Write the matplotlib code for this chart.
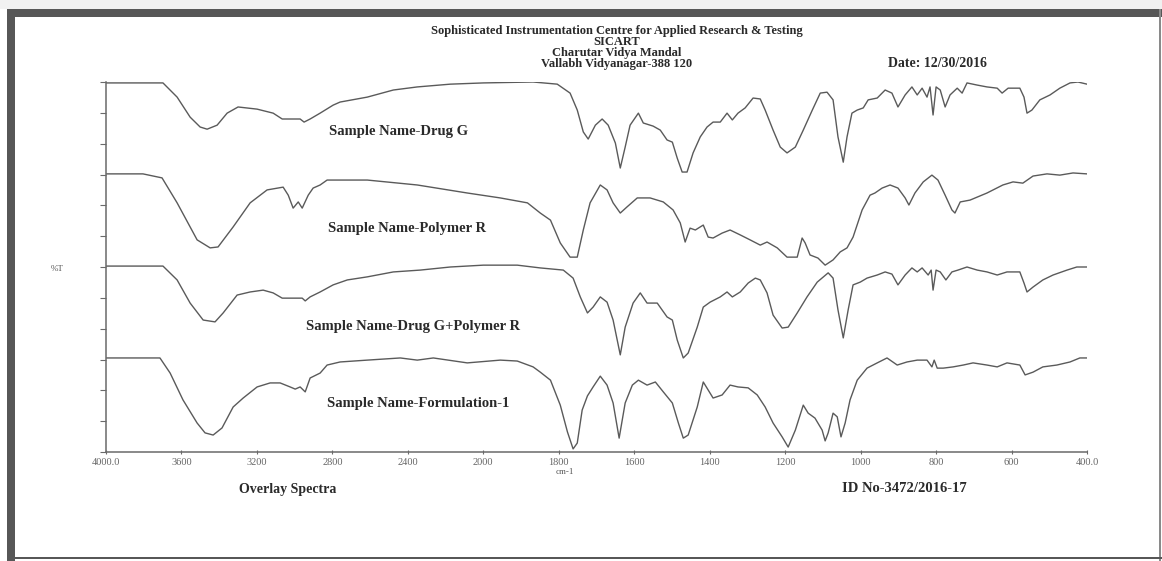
import numpy as np
import matplotlib.pyplot as plt
from matplotlib.patches import Rectangle

plt.rcParams['font.family'] = ['Liberation Serif', 'DejaVu Serif']

# (wavenumber cm-1, stacked %T)
drug_g = [(4000, 119.7), (3698, 119.7), (3623, 115.1), (3554, 108.6), (3501, 105.4),
          (3464, 104.7), (3411, 106.0), (3358, 109.9), (3300, 111.9), (3199, 111.2),
          (3114, 109.9), (3066, 108.0), (3008, 108.0), (2971, 108.0), (2950, 107.0),
          (2918, 108.0), (2865, 109.9), (2796, 112.5), (2759, 113.5), (2615, 115.1),
          (2477, 117.4), (2350, 118.4), (2175, 119.3), (2000, 119.7), (1868, 120.0),
          (1804, 119.3), (1770, 116.4), (1751, 110.9), (1735, 103.8), (1722, 101.5),
          (1703, 106.0), (1685, 108.0), (1669, 106.0), (1650, 100.2), (1637, 92.1),
          (1624, 98.9), (1611, 106.0), (1589, 109.9), (1576, 106.7), (1550, 105.7),
          (1531, 104.4), (1513, 101.2), (1499, 100.5), (1486, 95.3), (1473, 90.8),
          (1460, 90.8), (1444, 97.0), (1425, 102.2), (1407, 105.4), (1391, 107.0),
          (1372, 107.0), (1354, 109.9), (1340, 107.7), (1325, 109.9), (1306, 111.6),
          (1285, 114.8), (1266, 114.5), (1253, 110.9), (1232, 104.4), (1213, 98.9),
          (1195, 97.0), (1173, 98.9), (1152, 104.4), (1128, 110.9), (1107, 116.4),
          (1089, 116.7), (1073, 114.2), (1060, 102.2), (1046, 94.0), (1036, 102.2),
          (1023, 109.9), (1009, 110.9), (993, 111.6), (980, 114.2), (956, 114.8),
          (935, 117.4), (917, 116.4), (901, 111.9), (882, 115.8), (864, 118.4),
          (850, 115.8), (837, 118.0), (824, 115.1), (816, 118.4), (808, 109.3),
          (800, 118.4), (789, 117.4), (776, 111.9), (763, 115.8), (744, 118.0),
          (731, 116.4), (718, 119.7), (691, 119.0), (665, 118.4), (638, 118.0),
          (625, 116.4), (609, 118.0), (578, 118.0), (567, 115.1), (559, 109.9),
          (546, 110.9), (525, 114.2), (498, 115.8), (472, 118.0), (445, 119.7),
          (424, 120.0), (400, 119.3)]

polymer_r = [(4000, 90.2), (3804, 90.2), (3703, 88.9), (3623, 80.8), (3517, 68.8),
             (3448, 66.2), (3406, 66.5), (3326, 73.0), (3236, 80.8), (3146, 85.0),
             (3061, 85.9), (3034, 83.3), (3008, 79.1), (2981, 81.1), (2960, 79.1),
             (2928, 83.3), (2902, 85.6), (2865, 86.6), (2828, 88.2), (2615, 88.2),
             (2350, 86.6), (2085, 84.0), (1955, 82.4), (1883, 80.8), (1849, 77.5),
             (1822, 75.2), (1796, 67.8), (1770, 63.2), (1751, 63.2), (1735, 72.0),
             (1717, 80.8), (1690, 86.6), (1672, 85.0), (1656, 80.8), (1637, 77.5),
             (1619, 79.5), (1592, 82.4), (1558, 82.4), (1523, 81.1), (1497, 78.5),
             (1478, 74.3), (1465, 68.1), (1452, 72.6), (1438, 72.0), (1425, 73.0),
             (1417, 73.6), (1404, 69.7), (1391, 69.4), (1367, 71.0), (1346, 72.0),
             (1319, 70.4), (1293, 68.8), (1266, 67.1), (1248, 68.1), (1221, 66.2),
             (1195, 63.2), (1168, 63.2), (1155, 69.4), (1147, 67.8), (1134, 63.9),
             (1113, 62.9), (1094, 60.6), (1073, 62.3), (1054, 64.9), (1036, 66.2),
             (1020, 69.7), (996, 78.5), (975, 83.3), (962, 84.0), (943, 85.6),
             (922, 86.6), (901, 85.6), (882, 82.4), (872, 80.1), (856, 84.0),
             (834, 87.6), (811, 89.8), (795, 88.2), (776, 83.3), (758, 78.5),
             (750, 77.5), (736, 81.1), (710, 81.7), (665, 84.0), (623, 86.6),
             (596, 87.6), (570, 87.2), (543, 89.5), (506, 90.2), (472, 89.8),
             (437, 90.5), (400, 90.2)]

drug_g_polymer_r = [(4000, 60.3), (3698, 60.3), (3623, 55.8), (3554, 48.3), (3485, 42.8),
                    (3422, 42.2), (3379, 45.1), (3305, 50.9), (3236, 51.9), (3167, 52.5),
                    (3114, 51.6), (3066, 49.9), (3008, 49.9), (2960, 49.9), (2944, 49.0),
                    (2918, 50.3), (2865, 51.9), (2796, 54.2), (2721, 55.8), (2615, 56.8),
                    (2477, 58.4), (2334, 59.0), (2175, 60.0), (2000, 60.6), (1910, 60.6),
                    (1849, 59.7), (1788, 59.0), (1762, 56.4), (1743, 50.3), (1724, 45.1),
                    (1709, 47.0), (1690, 50.3), (1672, 48.6), (1656, 42.8), (1637, 31.5),
                    (1624, 40.5), (1603, 48.3), (1584, 51.6), (1566, 48.3), (1539, 48.3),
                    (1513, 43.8), (1499, 42.8), (1486, 36.3), (1470, 30.5), (1457, 32.1),
                    (1433, 40.5), (1417, 47.0), (1399, 48.6), (1372, 50.3), (1354, 51.9),
                    (1340, 50.3), (1319, 51.9), (1298, 54.8), (1279, 56.4), (1266, 55.8),
                    (1248, 51.6), (1232, 44.4), (1208, 40.2), (1192, 40.5), (1168, 45.1),
                    (1142, 50.3), (1115, 55.1), (1086, 58.1), (1073, 56.4), (1060, 46.1),
                    (1046, 37.0), (1033, 46.1), (1020, 54.2), (1001, 55.1), (983, 56.4),
                    (956, 57.4), (935, 58.4), (917, 57.7), (901, 54.2), (882, 57.4),
                    (864, 59.7), (850, 58.4), (837, 59.7), (821, 57.4), (813, 59.0),
                    (808, 52.5), (800, 59.0), (789, 58.4), (774, 55.8), (758, 58.4),
                    (742, 59.0), (718, 60.0), (691, 59.0), (665, 58.4), (638, 57.4),
                    (612, 58.4), (578, 58.4), (567, 54.8), (559, 51.9), (543, 53.5),
                    (517, 55.8), (490, 57.4), (453, 59.0), (427, 60.0), (400, 60.0)]

formulation_1 = [(4000, 30.5), (3714, 30.5), (3660, 25.6), (3592, 16.9), (3517, 9.4),
                 (3475, 6.2), (3432, 5.5), (3385, 7.8), (3326, 14.6), (3273, 17.5),
                 (3199, 21.1), (3130, 22.4), (3077, 22.4), (3024, 21.1), (2997, 20.4),
                 (2971, 21.1), (2944, 19.5), (2918, 24.0), (2865, 25.6), (2828, 28.2),
                 (2759, 29.2), (2615, 29.8), (2440, 30.5), (2350, 29.8), (2265, 30.5),
                 (2085, 28.9), (1955, 29.8), (1910, 29.5), (1868, 27.6), (1849, 25.9),
                 (1822, 23.3), (1796, 15.2), (1777, 6.5), (1762, 1.0), (1751, 2.9),
                 (1738, 13.6), (1724, 18.2), (1709, 21.1), (1690, 24.6), (1672, 21.7),
                 (1656, 15.9), (1640, 4.5), (1624, 15.9), (1605, 21.7), (1589, 23.3),
                 (1566, 21.7), (1544, 22.7), (1523, 19.5), (1499, 15.9), (1483, 9.4),
                 (1470, 4.5), (1457, 5.5), (1433, 14.6), (1417, 22.7), (1404, 20.1),
                 (1391, 17.5), (1367, 18.5), (1346, 21.7), (1325, 21.1), (1298, 20.8),
                 (1274, 18.5), (1253, 14.6), (1232, 9.4), (1208, 4.9), (1192, 1.6),
                 (1173, 7.1), (1152, 15.2), (1139, 12.6), (1121, 11.0), (1102, 7.1),
                 (1094, 3.6), (1086, 6.2), (1073, 12.6), (1062, 11.4), (1052, 4.9),
                 (1041, 9.4), (1028, 16.9), (1009, 23.3), (983, 27.2), (956, 28.9),
                 (930, 30.5), (903, 28.2), (877, 29.2), (850, 29.8), (824, 29.8),
                 (811, 27.6), (805, 29.8), (797, 27.2), (781, 27.2), (755, 27.6),
                 (728, 28.2), (702, 28.9), (665, 28.2), (638, 27.6), (612, 28.9),
                 (578, 28.2), (564, 25.0), (543, 25.9), (517, 27.6), (480, 28.2),
                 (445, 29.2), (419, 30.5), (400, 30.5)]

sample_names = ['Sample Name-Drug G', 'Sample Name-Polymer R',
                'Sample Name-Drug G+Polymer R', 'Sample Name-Formulation-1']
# where each name sits (wavenumber of left edge, level)
name_pos = [(2818, 104.0), (2822, 72.4), (2939, 40.6), (2828, 15.7)]

xticks = [4000, 3600, 3200, 2800, 2400, 2000, 1800, 1600, 1400, 1200, 1000, 800, 600, 400]
xticklabels = ['4000.0', '3600', '3200', '2800', '2400', '2000', '1800', '1600',
               '1400', '1200', '1000', '800', '600', '400.0']

header = ['Sophisticated Instrumentation Centre for Applied Research & Testing',
          'SICART', 'Charutar Vidya Mandal', 'Vallabh Vidyanagar-388 120']


# below 2000 cm-1 the instrument doubles the x scale
def fwd(w):
    w = np.asarray(w, dtype=float)
    return np.where(w >= 2000, w, 2 * w - 2000)


def inv(u):
    u = np.asarray(u, dtype=float)
    return np.where(u >= 2000, u, (u + 2000) / 2)


W, H = 1162, 561
fig = plt.figure(figsize=(W / 100, H / 100), dpi=100)

# scanned page frame
frame = '#575757'
fig.add_artist(Rectangle((0, 1 - 9 / H), 1, 9 / H, transform=fig.transFigure,
                         color='#f1f1f1', lw=0))
fig.add_artist(Rectangle((7 / W, 1 - 17 / H), 1 - 7 / W, 8 / H, transform=fig.transFigure,
                         color=frame, lw=0))
fig.add_artist(Rectangle((7 / W, 0), 8 / W, 1 - 9 / H, transform=fig.transFigure,
                         color=frame, lw=0))
fig.add_artist(Rectangle((1 - 3 / W, 0), 2 / W, 1 - 9 / H, transform=fig.transFigure,
                         color='#8a8a8a', lw=0))
fig.add_artist(Rectangle((7 / W, 2 / H), 1 - 7 / W, 2 / H, transform=fig.transFigure,
                         color=frame, lw=0))

ax = fig.add_axes([106 / W, 109 / H, 981 / W, 370 / H])
ax.set_xscale('function', functions=(fwd, inv))
ax.set_xlim(4000, 400)
ax.set_ylim(0, 120)

line_color = '#5a5a5a'
for spec in [drug_g, polymer_r, drug_g_polymer_r, formulation_1]:
    wn, tr = np.array(spec).T
    ax.plot(wn, tr, color=line_color, lw=1.0)

txt = '#2a2a2a'
for name, (wx, ty) in zip(sample_names, name_pos):
    ax.text(wx, ty, name, ha='left', va='center', fontsize=10.5,
            fontweight='bold', color=txt)

for s in ['top', 'right']:
    ax.spines[s].set_visible(False)
for s in ['left', 'bottom']:
    ax.spines[s].set_color('#6a6a6a')
    ax.spines[s].set_linewidth(1.1)

ax.set_xticks(xticks)
ax.set_xticklabels(xticklabels)
ax.xaxis.set_minor_locator(plt.NullLocator())
ax.tick_params(axis='x', direction='inout', length=3, width=0.8, color='#6a6a6a',
               labelsize=7.5, labelcolor='#666666', pad=3)
ax.set_yticks(np.arange(0, 121, 10))
ax.set_yticklabels([])
ax.tick_params(axis='y', direction='out', length=4, width=0.8, color='#6a6a6a')
ax.yaxis.set_minor_locator(plt.NullLocator())

# page text
for i, line in enumerate(header):
    fig.text(617 / W, 1 - (31 + 11 * i) / H, line, ha='center', va='center',
             fontsize=9, fontweight='bold', color=txt)
fig.text(888 / W, 1 - 64 / H, 'Date: 12/30/2016', ha='left', va='center',
         fontsize=10, fontweight='bold', color=txt)
fig.text(57 / W, 1 - 269 / H, '%T', ha='center', va='center', fontsize=6.5,
         color='#555555')
fig.text(565 / W, 1 - 472 / H, 'cm-1', ha='center', va='center', fontsize=6.5,
         color='#555555')
fig.text(239 / W, 1 - 489 / H, 'Overlay Spectra', ha='left', va='center',
         fontsize=10, fontweight='bold', color=txt)
fig.text(842 / W, 1 - 489 / H, 'ID No-3472/2016-17', ha='left', va='center',
         fontsize=10.5, fontweight='bold', color=txt)

fig.savefig('out.png', dpi=100)
